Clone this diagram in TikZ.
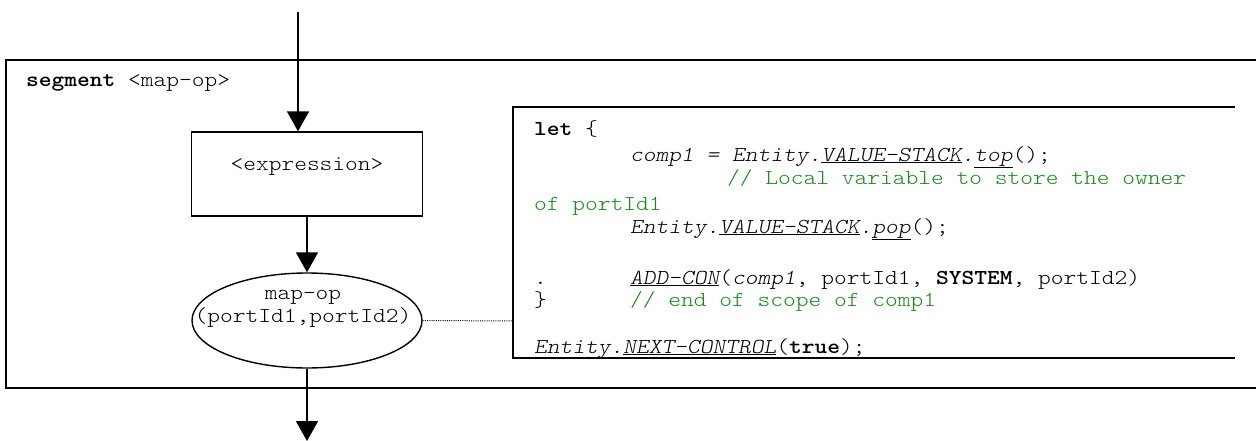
\documentclass[tikz,border=0pt]{standalone}
\usepackage{fontspec}
\setmonofont{lmmonolt10-regular}[Extension=.otf, BoldFont=lmmonolt10-bold, ItalicFont=lmmonolt10-oblique, BoldItalicFont=lmmonolt10-boldoblique, FakeStretch=1.14]
\usetikzlibrary{arrows.meta,shapes.geometric}
\definecolor{cmtgreen}{RGB}{20,140,20}
\tikzset{
  box/.style={draw, line width=1.4pt},
  frame/.style={line width=1.4pt},
  flow/.style={line width=1.6pt, -{Triangle[length=20pt,width=22pt]}},
  assoc/.style={line width=1pt, dash pattern=on 1pt off 1.2pt},
  txt/.style={inner sep=0pt, font=\ttfamily\fontsize{21.3}{23}\selectfont},
  code/.style={txt, anchor=base west},
  cmt/.style={color=cmtgreen},
}
\begin{document}
\begin{tikzpicture}[x=1pt,y=-1pt]
\useasboundingbox (0,0) rectangle (1256,441);
% outer segment frame (open to the right)
\draw[frame] (1256,60) -- (6,60) -- (6,388) -- (1256,388);
\node[code] (seglbl) at (26,87) {\textbf{segment} <map-op>};
% code frame (open to the right)
\draw[frame] (1235,107) -- (513,107) -- (513,358) -- (1235,358);
\coordinate (codeL) at (513,321);
% expression box
\node[box, minimum width=231pt, minimum height=84pt, inner sep=0pt] (expr) at (307,174) {};
\node[txt] (exprlbl) at (307,167) {<expression>};
% map-op ellipse
\node[box, ellipse, minimum width=230pt, minimum height=95pt, inner sep=0pt] (mapop) at (307,320.5) {};
\node[txt, align=center] (maplbl) at (303,309) {map-op\\(portId1,portId2)};
% connectors
\coordinate (topin) at (298,12);
\coordinate (botout) at (307,441);
\draw[flow] (topin) -- (topin |- expr.north);
\draw[flow] (expr.south) -- (mapop.north);
\draw[flow] (mapop.south) -- (botout);
\draw[assoc] (mapop.east) -- (codeL);
% code lines
\node[code] (l0) at (534,136) {\textbf{let} \{};
\node[code] (l1) at (630,161) {\textit{comp1 = Entity.\underline{VALUE-STACK}.\underline{top}}();};
\node[code, cmt] (l2) at (727,185) {// Local variable to store the owner};
\node[code, cmt] (l3) at (534,210) {of portId1};
\node[code] (l4) at (630,233) {\textit{Entity.\underline{VALUE-STACK}.\underline{pop}}();};
\node[code] (l6a) at (534,284) {.};
\node[code] (l6) at (630,284) {\textit{\underline{ADD-CON}}(\textit{comp1}, portId1, \textbf{SYSTEM}, portId2)};
\node[code] (l7a) at (534,306) {\}};
\node[code, cmt] (l7) at (630,306) {// end of scope of comp1};
\node[code] (l9) at (534,353) {\textit{Entity.\underline{NEXT-CONTROL}}(\textbf{true});};
\end{tikzpicture}
\end{document}
